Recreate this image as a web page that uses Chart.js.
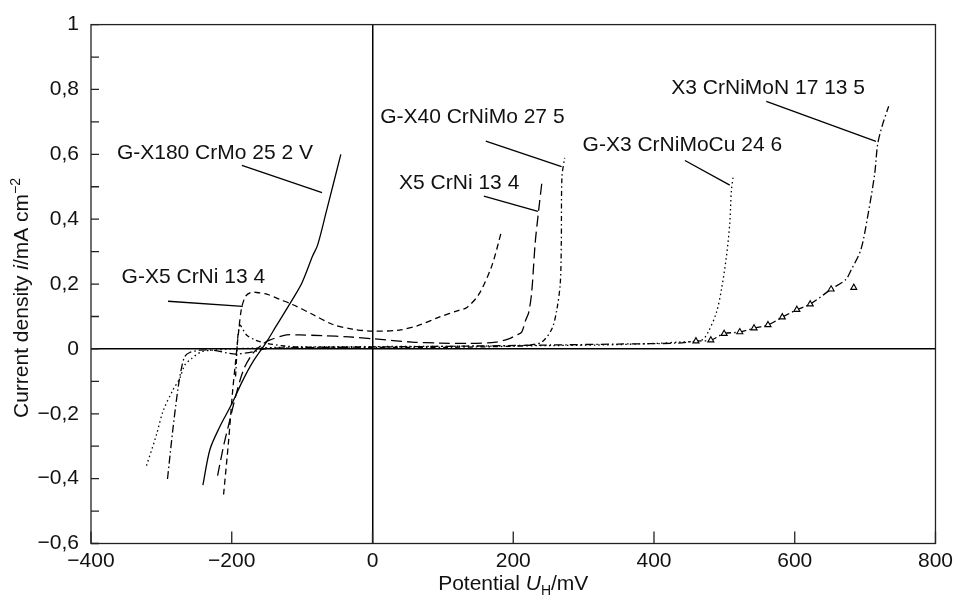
<!DOCTYPE html>
<html>
<head>
<meta charset="utf-8">
<script src="https://cdn.jsdelivr.net/npm/chart.js@4/dist/chart.umd.min.js"></script>
<style>
  body { margin: 0; background: #fff; }
  canvas { display: block; }
</style>
</head>
<body>
<canvas id="myChart" width="958" height="599"></canvas>
<script>
// values: [potential mV, current density mA/cm2]
var gx180 = [[-241,-0.42],[-231,-0.31],[-217,-0.24],[-200,-0.17],[-185,-0.10],[-170,-0.04],[-151,0.02],[-137,0.07],[-113,0.155],[-100,0.205],[-85,0.287],[-78,0.32],[-66,0.42],[-45,0.60]];
var gx5 = [[-211.6,-0.449],[-204.5,-0.284],[-198.8,-0.131],[-194.6,-0.04],[-190.3,0.052],[-186.1,0.125],[-180.4,0.162],[-173.3,0.174],[-164.8,0.174],[-149.2,0.168],[-132.2,0.153],[-113.8,0.137],[-85.5,0.107],[-57.1,0.076],[-28.8,0.061],[-0.5,0.055],[37.8,0.058],[66.1,0.073],[94.5,0.098],[122.8,0.119],[134.1,0.128],[151.1,0.168],[169.5,0.256],[183.7,0.366]];
var x5 = [[-220.1,-0.391],[-211.6,-0.299],[-203.1,-0.223],[-194.6,-0.147],[-183.2,-0.064],[-170.5,-0.015],[-157.7,0.012],[-146.4,0.027],[-122.3,0.043],[-103.9,0.043],[-71.3,0.041],[-33.1,0.037],[2.4,0.031],[56.2,0.021],[95.9,0.018],[136.9,0.017],[175.2,0.021],[193.6,0.031],[205,0.043],[212,0.052],[217.7,0.089],[222,0.113],[226.2,0.174],[231.2,0.327],[236.1,0.427],[240.8,0.515]];
var gx40 = [[-194.6,-0.085],[-188.9,0.073],[-179,0.043],[-166.2,0.027],[-152.1,0.018],[-125.1,0.009],[-104,0.006],[2.4,0.005],[108.6,0.005],[207.8,0.009],[229,0.014],[240.8,0.021],[255,0.062],[262.1,0.123],[266.9,0.205],[268.3,0.327],[269.2,0.53],[273,0.589]];
var gx3cu = [[-321.1,-0.36],[-306.9,-0.264],[-297.6,-0.192],[-283.4,-0.126],[-273.9,-0.091],[-266.8,-0.05],[-257.3,-0.03],[-243.2,-0.009],[-226.7,-0.004],[-200,0.0],[-104,0.006],[108.6,0.008],[321,0.012],[401.4,0.017],[434.5,0.021],[467.5,0.027],[477,0.052],[488.8,0.113],[495.9,0.184],[503,0.286],[507.7,0.388],[510,0.489],[512.4,0.53]];
var x3mon = [[-291.3,-0.401],[-283.4,-0.243],[-276.3,-0.121],[-271.5,-0.06],[-266.8,-0.024],[-259.7,-0.011],[-245.6,-0.004],[-226.7,-0.004],[-203.1,-0.014],[-193.6,-0.016],[-170.1,-0.009],[-151.1,0.001],[-122.7,0.003],[2.4,0.006],[108.6,0.008],[250.3,0.012],[349.5,0.015],[434.5,0.018],[459.6,0.024],[480.8,0.027],[499.7,0.047],[521.9,0.052],[542.2,0.064],[562,0.074],[582.3,0.098],[603,0.121],[622,0.138],[651.7,0.184],[672.6,0.214],[679.6,0.241],[693.8,0.305],[703.7,0.409],[713.6,0.54],[717.9,0.632],[725,0.693],[733.5,0.748]];
var x3monMarks = [[459.6,0.024],[480.8,0.027],[499.7,0.047],[521.9,0.052],[542.2,0.064],[562,0.074],[582.3,0.098],[603,0.121],[622,0.138],[651.7,0.184],[683.9,0.189]];

// leader lines from the names to the curves
var leaders = [
  [[-185.6,0.566],[-71.7,0.482]],
  [[-290.5,0.147],[-184.2,0.131]],
  [[161,0.641],[268.7,0.562]],
  [[158.2,0.471],[235.1,0.424]],
  [[444,0.581],[507.7,0.505]],
  [[559.6,0.763],[715.4,0.64]]
];
var curveNames = ['G-X180 CrMo 25 2 V', 'G-X5 CrNi 13 4', 'G-X40 CrNiMo 27 5', 'X5 CrNi 13 4', 'G-X3 CrNiMoCu 24 6', 'X3 CrNiMoN 17 13 5'];
var nameX = [-363.2, -356.5, 10.9, 37.8, 298.5, 424.6];
var nameY = [0.608, 0.226, 0.721, 0.516, 0.632, 0.809];

var xTickValues = [-400, -200, 0, 200, 400, 600, 800];
var xTickLabels = ['\u2212400', '\u2212200', '0', '200', '400', '600', '800'];
var yTickValues = [-0.6,-0.5,-0.4,-0.3,-0.2,-0.1,0,0.1,0.2,0.3,0.4,0.5,0.6,0.7,0.8,0.9,1];
var yTickLabels = ['\u22120,6','','\u22120,4','','\u22120,2','','0','','0,2','','0,4','','0,6','','0,8','','1'];

var FAM = '"Liberation Sans", Arial, Helvetica, sans-serif';

function pts(a) {
    return a.map(function (p) { return { x: p[0], y: p[1] }; });
}

function curve(a, dash) {
    return {
        data: pts(a), showLine: true, pointRadius: 0, borderColor: '#000',
        borderWidth: 1.3, borderDash: dash, tension: 0.3, fill: false, order: 2
    };
}

// draw text made of pieces with different fonts
function runsWidth(ctx, runs) {
    var w = 0;
    runs.forEach(function (r) { ctx.font = r.f; w += ctx.measureText(r.t).width; });
    return w;
}
function drawRuns(ctx, runs, x, y) {
    runs.forEach(function (r) {
        ctx.font = r.f;
        ctx.fillText(r.t, x, y + (r.dy || 0));
        x += ctx.measureText(r.t).width;
    });
}

var extras = {
    id: 'extras',
    afterDatasetsDraw: function (chart) {
        var ctx = chart.ctx, a = chart.chartArea;
        var xs = chart.scales.x, ys = chart.scales.y;
        ctx.save();
        // frame
        ctx.strokeStyle = '#222';
        ctx.lineWidth = 1.3;
        ctx.strokeRect(a.left, a.top, a.right - a.left, a.bottom - a.top);
        // ticks pointing inwards
        ctx.beginPath();
        xs.ticks.forEach(function (t) {
            var px = xs.getPixelForValue(t.value);
            ctx.moveTo(px, a.bottom); ctx.lineTo(px, a.bottom - 12);
        });
        ys.ticks.forEach(function (t) {
            var py = ys.getPixelForValue(t.value);
            ctx.moveTo(a.left, py); ctx.lineTo(a.left + 8, py);
        });
        ctx.stroke();

        // curve names
        ctx.fillStyle = '#111';
        ctx.textBaseline = 'alphabetic';
        ctx.textAlign = 'left';
        ctx.font = '21px ' + FAM;
        curveNames.forEach(function (n, i) {
            ctx.fillText(n, xs.getPixelForValue(nameX[i]), ys.getPixelForValue(nameY[i]) + 7.5);
        });

        // axis titles
        var reg = '21px ' + FAM, ita = 'italic 21px ' + FAM, small = '14px ' + FAM;
        var xt = [{ t: 'Potential ', f: reg }, { t: 'U', f: ita }, { t: 'H', f: small, dy: 5 }, { t: '/mV', f: reg }];
        var w = runsWidth(ctx, xt);
        drawRuns(ctx, xt, (a.left + a.right) / 2 - w / 2, 590);

        var yt = [{ t: 'Current density ', f: reg }, { t: 'i', f: ita }, { t: '/mA cm', f: reg }, { t: '\u22122', f: small, dy: -8 }];
        w = runsWidth(ctx, yt);
        ctx.translate(28, 298);
        ctx.rotate(-Math.PI / 2);
        drawRuns(ctx, yt, -w / 2, 0);
        ctx.restore();
    }
};

var datasets = [
    curve(gx180, []),
    curve(gx5, [6, 4]),
    curve(x5, [11, 5]),
    curve(gx40, [5, 3, 1.5, 3]),
    curve(gx3cu, [1.5, 3]),
    curve(x3mon, [8, 3, 1.5, 3]),
    {
        data: pts(x3monMarks), showLine: false, pointStyle: 'triangle', pointRadius: 3.5,
        borderColor: '#000', backgroundColor: '#fff', borderWidth: 1.1, order: 0
    }
];
leaders.forEach(function (l) {
    datasets.push({
        data: pts(l), showLine: true, pointRadius: 0, borderColor: '#000',
        borderWidth: 1.3, tension: 0, order: 1
    });
});

var ctx = document.getElementById('myChart').getContext('2d');
var chart = new Chart(ctx, {
    type: 'scatter',
    data: { datasets: datasets },
    options: {
        responsive: false,
        animation: false,
        layout: { padding: { top: 19.5, right: 20, bottom: 0, left: 0 } },
        plugins: { legend: { display: false }, tooltip: { enabled: false } },
        scales: {
            x: {
                type: 'linear', min: -400, max: 800,
                afterBuildTicks: function (s) { s.ticks = xTickValues.map(function (v) { return { value: v }; }); },
                afterFit: function (s) { s.height = 55.5; },
                ticks: {
                    callback: function (v, i) { return xTickLabels[i]; },
                    font: { family: FAM, size: 21 }, color: '#111', padding: 5,
                    maxRotation: 0, autoSkip: false
                },
                grid: {
                    drawTicks: false, lineWidth: 1.5,
                    color: function (c) { return c.tick && c.tick.value === 0 ? '#000' : 'rgba(0,0,0,0)'; }
                },
                border: { display: false }
            },
            y: {
                type: 'linear', min: -0.6, max: 1,
                afterBuildTicks: function (s) { s.ticks = yTickValues.map(function (v) { return { value: v }; }); },
                afterFit: function (s) { s.width = 91; },
                ticks: {
                    callback: function (v, i) { return yTickLabels[i]; },
                    font: { family: FAM, size: 21 }, color: '#111', padding: 12, autoSkip: false
                },
                grid: {
                    drawTicks: false, lineWidth: 1.5,
                    color: function (c) { return c.tick && c.tick.value === 0 ? '#000' : 'rgba(0,0,0,0)'; }
                },
                border: { display: false }
            }
        }
    },
    plugins: [extras]
});
</script>
</body>
</html>
